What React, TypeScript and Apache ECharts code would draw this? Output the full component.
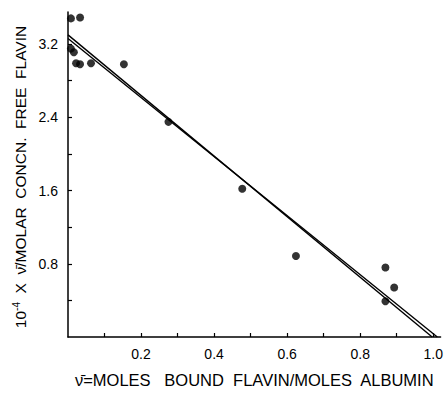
import React, { useEffect, useRef } from "react";
import * as echarts from "echarts";

const pointsX = [0.008, 0.033, 0.008, 0.016, 0.022, 0.033, 0.063, 0.153, 0.275, 0.477, 0.624, 0.869, 0.893, 0.869];
const pointsY = [3.48, 3.49, 3.15, 3.11, 2.99, 2.98, 2.99, 2.98, 2.35, 1.62, 0.885, 0.76, 0.54, 0.39];
const lineA = [[0, 3.3], [0.997, 0]];
const lineB = [[0, 3.26], [1.011, 0]];
const xTickLabels = [0.2, 0.4, 0.6, 0.8, 1.0];
const xTicks = [0.1, 0.2, 0.3, 0.4, 0.5, 0.6, 0.7, 0.8, 0.9, 1.0];
const yTickLabels = [0.8, 1.6, 2.4, 3.2];
const yTicks = [0.4, 0.8, 1.2, 1.6, 2.0, 2.4, 2.8, 3.2];

const FONT = "Liberation Sans";

export default function App() {
  const ref = useRef<HTMLDivElement>(null);
  useEffect(() => {
    const chart = echarts.init(ref.current!, null, { renderer: "svg" });
    const axisLine = { lineStyle: { color: "#000", width: 1.5 } };
    chart.setOption({
      animation: false,
      backgroundColor: "#fff",
      grid: { left: 68, right: 4, top: 12, bottom: 48 },
      graphic: [
        {
          type: "text",
          x: 20,
          y: 177,
          rotation: Math.PI / 2,
          style: {
            text: "10{sup|-4}  X  \u03BD\u0304/MOLAR  CONCN.  FREE  FLAVIN",
            fill: "#000",
            fontFamily: FONT,
            fontSize: 15.5,
            align: "center",
            verticalAlign: "middle",
            rich: { sup: { fontFamily: FONT, fontSize: 10, fill: "#000", verticalAlign: "top", padding: [0, 0, 8, 0] } },
          },
        },
      ],
      xAxis: {
        type: "value",
        min: 0,
        max: 1.02,
        axisLine: { ...axisLine, onZero: false },
        splitLine: { show: false },
        axisTick: { inside: true, length: 4, customValues: xTicks, lineStyle: { color: "#000", width: 1.2 } },
        axisLabel: {
          customValues: xTickLabels,
          color: "#000",
          fontFamily: FONT,
          fontSize: 14,
          margin: 10,
          formatter: (v: number) => v.toFixed(1),
        },
        name: "\u03BD\u0304=MOLES   BOUND  FLAVIN/MOLES  ALBUMIN",
        nameLocation: "middle",
        nameGap: 34,
        nameTextStyle: { color: "#000", fontFamily: FONT, fontSize: 16.5 },
      },
      yAxis: {
        type: "value",
        min: 0,
        max: 3.55,
        axisLine: { ...axisLine, onZero: false },
        splitLine: { show: false },
        axisTick: { inside: true, length: 4, customValues: yTicks, lineStyle: { color: "#000", width: 1.2 } },
        axisLabel: {
          customValues: yTickLabels,
          color: "#000",
          fontFamily: FONT,
          fontSize: 14,
          margin: 10,
          formatter: (v: number) => v.toFixed(1),
        },
      },
      series: [
        {
          type: "line",
          data: lineA,
          symbol: "none",
          lineStyle: { color: "#000", width: 1.4 },
        },
        {
          type: "line",
          data: lineB,
          symbol: "none",
          lineStyle: { color: "#000", width: 1.4 },
        },
        {
          type: "scatter",
          data: pointsX.map((x, i) => [x, pointsY[i]]),
          symbolSize: 8,
          itemStyle: { color: "#000" },
        },
      ],
    });
    return () => chart.dispose();
  }, []);
  return <div ref={ref} style={{ width: 446, height: 393, position: "absolute", left: 0, top: 0 }} />;
}
